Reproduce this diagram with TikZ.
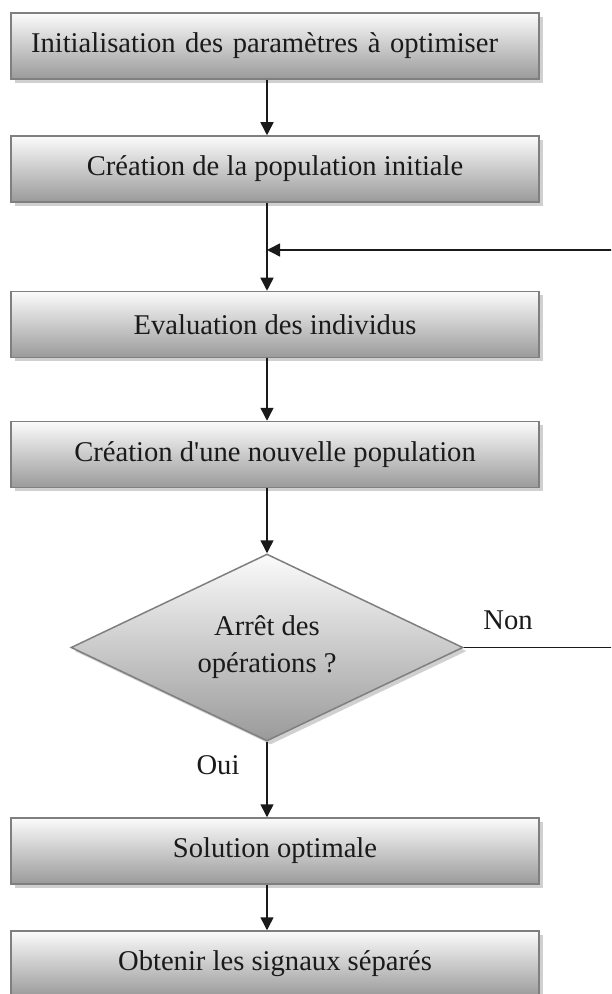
\documentclass[tikz,border=0pt]{standalone}
\usepackage{fontspec}
\setmainfont{Liberation Serif}[Ligatures=TeXOff]
\usetikzlibrary{arrows.meta,positioning,shapes.geometric,shadows}
\definecolor{ink}{HTML}{1A1A1A}
\definecolor{edge}{HTML}{7F7F7F}
\definecolor{shadetop}{HTML}{FBFBFB}
\definecolor{shadebottom}{HTML}{9A9A9A}
\definecolor{shadowgray}{HTML}{B0B0B0}
\tikzset{
  flow/.style={-{Triangle[length=6.5pt,width=6.5pt]},draw=ink,line width=.75pt},
  link/.style={draw=ink,line width=.75pt},
  filled/.style={draw=edge,line width=.75pt,top color=shadetop,bottom color=shadebottom,
    drop shadow={shadow xshift=1.8pt,shadow yshift=-1.8pt,fill=shadowgray,opacity=.6},
    font=\fontsize{14.3}{18.5}\selectfont,text=ink},
  box/.style={filled,rectangle,minimum width=264pt,minimum height=33pt,
    inner sep=0pt,align=center},
  decision/.style={filled,diamond,aspect=2.1,minimum width=196pt,minimum height=93.5pt,
    inner sep=0pt,align=center},
  tag/.style={font=\fontsize{14.3}{18.5}\selectfont,text=ink},
}
\begin{document}
\begin{tikzpicture}[x=.5pt,y=-.5pt]
\clip (0,0) rectangle (611,994);
\node[box,text width=244pt,align=left,inner xsep=10pt] (init) at (275,46) {Initialisation des paramètres à optimiser};
\node[box] (creation) at (275,169) {Création de la population initiale};
\node[box] (eval) at (275,324.5) {Evaluation des individus};
\node[box] (newpop) at (275,454.5) {Création d'une nouvelle population};
\node[decision] (stop) at (267,647.5) {Arrêt des\\opérations ?};
\node[box] (best) at (275,851) {Solution optimale};
\node[box] (result) at (275,964) {Obtenir les signaux séparés};
\foreach \a/\b in {init/creation,creation/eval,eval/newpop,newpop/stop,best/result}
  \draw[flow] (\a.south -| stop.north) -- (\b.north -| stop.north);
\draw[flow] (stop.south) -- (best.north -| stop.south);
% boucle de retour
\coordinate (back) at (615,250);
\coordinate (merge) at (267,250);
\draw[flow] (back) -- (merge);
\coordinate (noend) at (615,647.5);
\draw[link] (stop.east) -- (noend);
\node[tag] (non) at (508,620) {Non};
\node[tag] (oui) at (218,765) {Oui};
\end{tikzpicture}
\end{document}
